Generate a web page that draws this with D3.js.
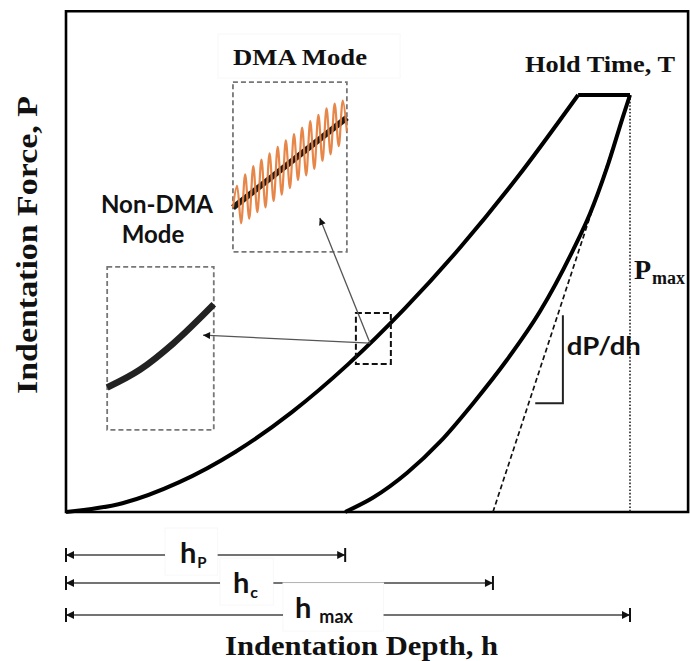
<!DOCTYPE html>
<html><head><meta charset="utf-8">
<script src="https://cdn.jsdelivr.net/npm/d3@7"></script>
<style>html,body{margin:0;padding:0;background:#fff;} svg{display:block}</style>
</head><body>
<script>
// ---------------- data (depth and force in relative units, hmax = 100, Pmax = 100) ----------------
const loadingDepth = [0, 10, 20, 30, 40, 50, 60, 70, 80, 90.8];
const loadingForce = [0, 2.1, 7.1, 14.4, 23.9, 35.4, 48.7, 63.6, 80.2, 100];
const holdDepth = [90.8, 100];
const holdForce = [100, 100];
const unloadDepth = [49.5, 54.4, 60.5, 66.3, 72.2, 78.2, 84.0, 89.9, 92.9, 95.9, 98.8, 100];
const unloadForce = [0, 3.4, 9.4, 16.8, 26.1, 36.5, 48.0, 62.8, 71.5, 82.5, 95.0, 100];
const tangentDepth = [75.7, 100];
const tangentForce = [0, 100];
const dimNames = ["hP", "hc", "hmax"];
const dimBase = ["h", "h", "h"];
const dimSub = ["P", "c", "max"];
const dimDepth = [49.5, 75.7, 100];
// insets (local 0..1 units)
const nonDmaT = [0, 0.31, 0.62, 1];
const nonDmaV = [0.26, 0.37, 0.53, 0.77];
const dmaBaseT = [0, 1];
const dmaBaseV = [0.26, 0.79];
const dmaOsc = [0, 0.11, -0.13, 0.14, -0.14, 0.15, -0.14, 0.15, -0.15, 0.15, -0.15, 0.15, -0.15, 0.15,
                -0.15, 0.15, -0.14, 0.15, -0.15, 0.15, -0.15, 0.15, -0.14, 0.15, -0.14, 0.14, -0.13, 0.12, -0.08];

// ---------------- layout ----------------
const W = 690, H = 661;
const x = d3.scaleLinear().domain([0, 100]).range([66, 630]);
const y = d3.scaleLinear().domain([0, 100]).range([512, 95]);
const frameDepthMax = 110.3, frameForceMax = 120.1;

const svg = d3.select("body").append("svg").attr("width", W).attr("height", H);
const defs = svg.append("defs");
function marker(id, w, h) {
  defs.append("marker").attr("id", id).attr("viewBox", "0 0 10 10")
    .attr("refX", 10).attr("refY", 5).attr("markerUnits", "userSpaceOnUse")
    .attr("markerWidth", w).attr("markerHeight", h).attr("orient", "auto-start-reverse")
    .append("path").attr("d", "M0,0L10,5L0,10Z").attr("fill", "#111");
}
marker("arrDim", 10, 8);
marker("arrAnn", 10, 7);

const serif = "'Liberation Serif','Times New Roman',serif";
const sans = "Lato,'Open Sans','DejaVu Sans',sans-serif";
const faint = "#f8f8f8";

// frame
svg.append("path")
  .attr("d", `M${x(0)},${y(frameForceMax)}L${x(0)},${y(0)}L${x(frameDepthMax)},${y(0)}L${x(frameDepthMax)},${y(frameForceMax)}Z`)
  .attr("fill", "none").attr("stroke", "#000").attr("stroke-width", 2.6);

// Pmax dotted line
svg.append("line").attr("x1", x(100)).attr("x2", x(100)).attr("y1", y(100)).attr("y2", y(0))
  .attr("stroke", "#222").attr("stroke-width", 1.6).attr("stroke-dasharray", "1.6,1.8");

// tangent dashed
svg.append("line").attr("x1", x(tangentDepth[0])).attr("y1", y(tangentForce[0]))
  .attr("x2", x(tangentDepth[1])).attr("y2", y(tangentForce[1]))
  .attr("stroke", "#111").attr("stroke-width", 1.7).attr("stroke-dasharray", "5,3");

const line = d3.line().x(d => x(d[0])).y(d => y(d[1]));
const loadPts = loadingDepth.map((d, i) => [d, loadingForce[i]]);
const unloadPts = unloadDepth.map((d, i) => [d, unloadForce[i]]);
const holdPts = holdDepth.map((d, i) => [d, holdForce[i]]);
svg.append("path").attr("d", line.curve(d3.curveMonotoneX)(loadPts))
  .attr("fill", "none").attr("stroke", "#000").attr("stroke-width", 4);
svg.append("path").attr("d", line.curve(d3.curveMonotoneX)(unloadPts))
  .attr("fill", "none").attr("stroke", "#000").attr("stroke-width", 4);
svg.append("path").attr("d", line.curve(d3.curveLinear)(holdPts))
  .attr("fill", "none").attr("stroke", "#000").attr("stroke-width", 4).attr("stroke-linejoin", "miter");

// dP/dh slope triangle
const tri = {d0: 83.2, d1: 88.1, f0: 26.1, f1: 47.2};
svg.append("path")
  .attr("d", `M${x(tri.d1)},${y(tri.f1)}L${x(tri.d1)},${y(tri.f0)}L${x(tri.d0)},${y(tri.f0)}`)
  .attr("fill", "none").attr("stroke", "#222").attr("stroke-width", 2);
svg.append("text").attr("x", x(tri.d1) + 4).attr("y", 355)
  .attr("font-family", sans).attr("font-weight", 700).attr("font-size", 25)
  .attr("textLength", 74).attr("lengthAdjust", "spacingAndGlyphs").attr("fill", "#111").text("dP/dh");

// Pmax label
const pm = svg.append("text").attr("x", x(100) + 4).attr("y", 279).attr("font-family", serif).attr("font-weight", 700).attr("fill", "#111");
pm.append("tspan").attr("font-size", 28).text("P");
pm.append("tspan").attr("font-size", 18).attr("dy", 5).attr("dx", 1).text("max");

// Hold time label
svg.append("text").attr("x", 525).attr("y", 72).attr("font-family", serif).attr("font-weight", 700)
  .attr("font-size", 23).attr("textLength", 150).attr("lengthAdjust", "spacingAndGlyphs").attr("fill", "#111").text("Hold Time, T");

// small dashed box on loading curve
const sb = {d0: 51.4, d1: 57.6, f0: 35.5, f1: 47.7};
svg.append("rect").attr("x", x(sb.d0)).attr("y", y(sb.f1)).attr("width", x(sb.d1) - x(sb.d0)).attr("height", y(sb.f0) - y(sb.f1))
  .attr("fill", "none").attr("stroke", "#111").attr("stroke-width", 2).attr("stroke-dasharray", "6,3");

// Non-DMA inset
const nb = {d0: 7.3, d1: 26.2, f0: 19.7, f1: 58.8};
svg.append("rect").attr("x", x(nb.d0)).attr("y", y(nb.f1)).attr("width", x(nb.d1) - x(nb.d0)).attr("height", y(nb.f0) - y(nb.f1))
  .attr("fill", "#fff").attr("stroke", "#777").attr("stroke-width", 1.8).attr("stroke-dasharray", "5,3");
{
  const lx = d3.scaleLinear().domain([0, 1]).range([x(nb.d0), x(nb.d1)]);
  const ly = d3.scaleLinear().domain([0, 1]).range([y(nb.f0), y(nb.f1)]);
  svg.append("path").attr("d", d3.line().x(d => lx(d[0])).y(d => ly(d[1])).curve(d3.curveMonotoneX)(nonDmaT.map((t, i) => [t, nonDmaV[i]])))
    .attr("fill", "none").attr("stroke", "#222").attr("stroke-width", 6.5);
}
svg.append("text").attr("x", 157).attr("y", 213).attr("text-anchor", "middle").attr("font-family", sans).attr("font-weight", 700)
  .attr("font-size", 24).attr("fill", "#111").text("Non-DMA");
svg.append("text").attr("x", 153).attr("y", 243).attr("text-anchor", "middle").attr("font-family", sans).attr("font-weight", 700)
  .attr("font-size", 24).attr("fill", "#111").text("Mode");

// DMA inset
const db = {d0: 29.6, d1: 49.8, f0: 62.4, f1: 103.1};
svg.append("rect").attr("x", 218).attr("y", 34).attr("width", 182).attr("height", 44).attr("fill", "#fff").attr("stroke", faint);
svg.append("rect").attr("x", x(db.d0)).attr("y", y(db.f1)).attr("width", x(db.d1) - x(db.d0)).attr("height", y(db.f0) - y(db.f1))
  .attr("fill", "#fff").attr("stroke", "#777").attr("stroke-width", 1.8).attr("stroke-dasharray", "5,3");
{
  const lx = d3.scaleLinear().domain([0, 1]).range([x(db.d0), x(db.d1)]);
  const ly = d3.scaleLinear().domain([0, 1]).range([y(db.f0), y(db.f1)]);
  const base = d3.scaleLinear().domain(dmaBaseT).range(dmaBaseV);
  svg.append("path").attr("d", d3.line().x(d => lx(d[0])).y(d => ly(d[1]))(dmaBaseT.map((t, i) => [t, dmaBaseV[i]])))
    .attr("fill", "none").attr("stroke", "#1a1a1a").attr("stroke-width", 6);
  const n = dmaOsc.length;
  const oscPts = dmaOsc.map((o, i) => [i / (n - 1), base(i / (n - 1)) + o]);
  svg.append("path").attr("d", d3.line().x(d => lx(d[0])).y(d => ly(d[1])).curve(d3.curveCatmullRom)(oscPts))
    .attr("fill", "none").attr("stroke", "#e5803f").attr("stroke-width", 2.2).attr("opacity", 0.95);
}
svg.append("text").attr("x", 233).attr("y", 65).attr("font-family", serif).attr("font-weight", 700)
  .attr("font-size", 23).attr("textLength", 134).attr("lengthAdjust", "spacingAndGlyphs").attr("fill", "#111").text("DMA Mode");

// annotation arrows (drawn over the insets)
const arrStart = [53.9, 40.5];
const arrTips = [[24.3, 42.4], [45.0, 70.5]];
arrTips.forEach(t => {
  svg.append("line").attr("x1", x(arrStart[0])).attr("y1", y(arrStart[1])).attr("x2", x(t[0])).attr("y2", y(t[1]))
    .attr("stroke", "#555").attr("stroke-width", 1.3).attr("marker-end", "url(#arrAnn)");
});

// dimension lines under the axis
const dimY = [555, 583, 615];
const dimLabelX = [180, 233, 295];
const dimLabelY = [563, 593, 618];
const dimSubSize = [15, 16, 18];
const dimSubDy = [5, 5, 5];
const dimPad = [[15, 11], [13, 15], [12, 30]];
dimNames.forEach((nm, i) => {
  const g = svg.append("g");
  const t = g.append("text").attr("x", dimLabelX[i]).attr("y", dimLabelY[i]).attr("font-family", sans).attr("font-weight", 700).attr("fill", "#111");
  t.append("tspan").attr("font-size", 29).text(dimBase[i]);
  t.append("tspan").attr("font-size", dimSubSize[i]).attr("dy", dimSubDy[i]).attr("dx", i === 2 ? 8 : 1).text(dimSub[i]);
  const bb = t.node().getBBox();
  const gx0 = bb.x - dimPad[i][0], gx1 = bb.x + bb.width + dimPad[i][1];
  g.insert("rect", "text").attr("x", gx0).attr("y", bb.y - 6).attr("width", gx1 - gx0).attr("height", bb.height + 10)
    .attr("fill", "#fff").attr("stroke", faint);
  g.append("line").attr("x1", gx0).attr("x2", x(0)).attr("y1", dimY[i]).attr("y2", dimY[i])
    .attr("stroke", "#444").attr("stroke-width", 1.3).attr("marker-end", "url(#arrDim)");
  g.append("line").attr("x1", gx1).attr("x2", x(dimDepth[i])).attr("y1", dimY[i]).attr("y2", dimY[i])
    .attr("stroke", "#444").attr("stroke-width", 1.3).attr("marker-end", "url(#arrDim)");
  [x(0), x(dimDepth[i])].forEach(px => g.append("line").attr("x1", px).attr("x2", px)
    .attr("y1", dimY[i] - 7).attr("y2", dimY[i] + 7).attr("stroke", "#111").attr("stroke-width", 2));
});

// axis titles
svg.append("text").attr("x", 225).attr("y", 655).attr("font-family", serif).attr("font-weight", 700)
  .attr("font-size", 27).attr("textLength", 273).attr("lengthAdjust", "spacingAndGlyphs").attr("fill", "#111").text("Indentation Depth, h");
svg.append("text").attr("transform", "translate(37,245) rotate(-90)").attr("text-anchor", "middle")
  .attr("font-family", serif).attr("font-weight", 700).attr("font-size", 30)
  .attr("textLength", 298).attr("lengthAdjust", "spacingAndGlyphs")
  .attr("fill", "#111").text("Indentation Force, P");
</script>
</body></html>
